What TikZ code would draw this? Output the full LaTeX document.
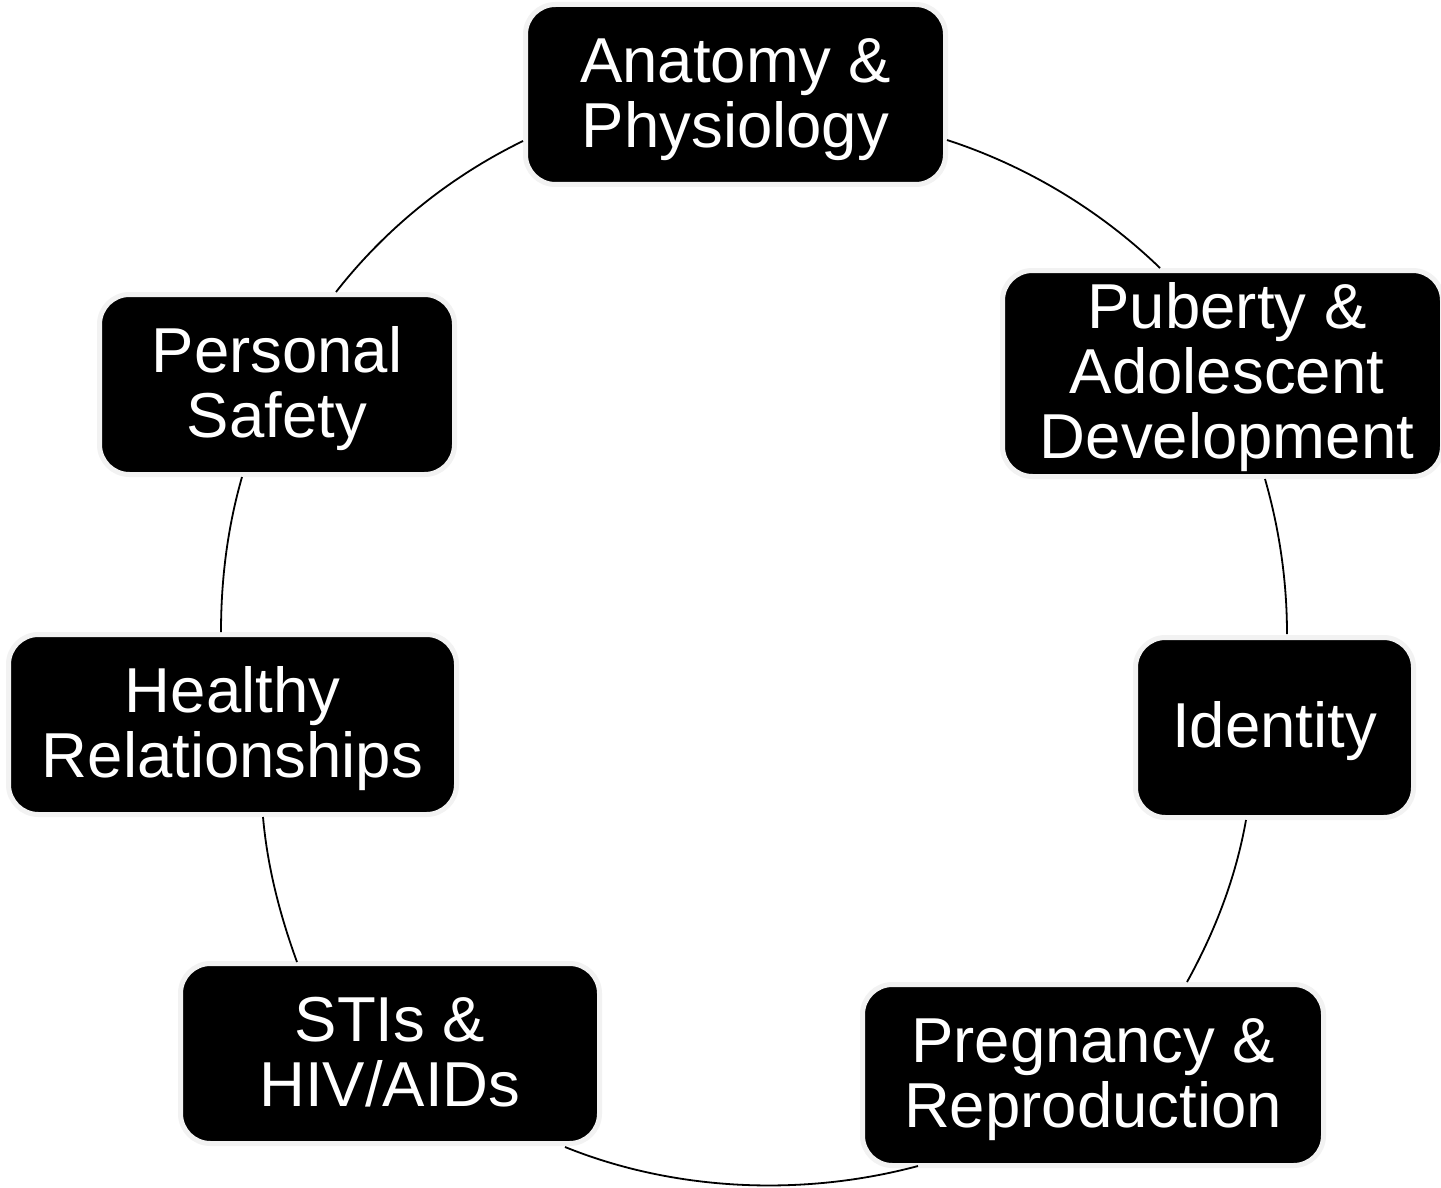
\documentclass[tikz,border=0pt]{standalone}
\usepackage{fontspec}
\setmainfont{Liberation Sans}
\newcommand\topstr{\rule{0pt}{54pt}}
\newcommand\botstr{\rule[-13pt]{0pt}{13pt}}
\begin{document}
\begin{tikzpicture}[x=1pt,y=-1pt,
  topic/.style={rectangle, rounded corners=30, fill=black, draw=black!5,
    line width=5, text=white, align=center, inner sep=0pt,
    font=\fontsize{63.5}{65}\selectfont},
  ring/.style={draw=black, line width=1.8, looseness=0.86}]
\useasboundingbox[fill=white] (0,0) rectangle (1441,1188);

% boxes
\node[topic, minimum width=420, minimum height=180] (anat) at (735.5,94.5) {\topstr Anatomy \&\\Physiology\botstr};
\node[topic, minimum width=440, minimum height=206] (pub) at (1222.5,373.5) {\topstr\hspace*{9pt}Puberty \&\\\hspace*{9pt}Adolescent\\\hspace*{9pt}Development\botstr};
\node[topic, minimum width=278, minimum height=180] (iden) at (1274.5,727.5) {\topstr Identity\botstr};
\node[topic, minimum width=461, minimum height=181] (preg) at (1093,1075) {\topstr Pregnancy \&\\Reproduction\botstr};
\node[topic, minimum width=419, minimum height=180] (stis) at (390,1053.5) {\topstr STIs \&\\HIV/AIDs\botstr};
\node[topic, minimum width=448, minimum height=180] (heal) at (232.5,724.5) {\topstr Healthy\\Relationships\botstr};
\node[topic, minimum width=355, minimum height=180] (pers) at (277,384.5) {\topstr Personal\\Safety\botstr};

% arc end points
\coordinate (anatR) at (947,140);
\coordinate (pubT)  at (1160,268);
\coordinate (pubB)  at (1265,479);
\coordinate (idenT) at (1287,634);
\coordinate (idenB) at (1246,820);
\coordinate (pregT) at (1187,982);
\coordinate (pregB) at (918,1166);
\coordinate (stisB) at (565,1147);
\coordinate (stisT) at (297,962);
\coordinate (healB) at (263,817);
\coordinate (healT) at (221,632);
\coordinate (persB) at (242,477);
\coordinate (persT) at (336,292);
\coordinate (anatL) at (523,141);

% ring arcs
\draw[ring] (anatR) to[out=-18, in=136] (pubT);
\draw[ring] (pubB)  to[out=-74, in=90]  (idenT);
\draw[ring] (idenB) to[out=-100, in=61] (pregT);
\draw[ring] (pregB) to[out=195, in=-22] (stisB);
\draw[ring] (stisT) to[out=110, in=275] (healB);
\draw[ring] (healT) to[out=90, in=254]  (persB);
\draw[ring] (persT) to[out=52, in=206]  (anatL);
\end{tikzpicture}
\end{document}
